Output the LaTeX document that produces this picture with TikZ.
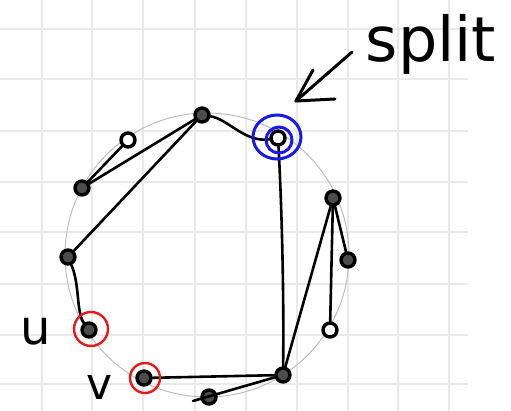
\documentclass[tikz,border=0pt]{standalone}
\usepackage{fontspec}
\newfontfamily\handfont{DejaVu Sans}
\usetikzlibrary{calc}
\definecolor{gridgray}{HTML}{E9E9E9}
\definecolor{ringgray}{HTML}{BDBDBD}
\definecolor{penblue}{HTML}{1A1AE6}
\definecolor{penred}{HTML}{E61A1A}
\tikzset{
  gridline/.style={draw=gridgray, line width=2pt},
  ring/.style={draw=ringgray, line width=1pt},
  vtx/.style={circle, draw=black, line width=3.4pt, fill=black!70, inner sep=0pt, minimum size=14pt},
  hollow/.style={vtx, fill=white},
  edge/.style={draw=black, line width=2.6pt, line cap=round, line join=round},
  mark red/.style={draw=penred, line width=2.4pt},
  mark blue/.style={draw=penblue, line width=3pt},
  pen/.style={draw=black, line width=3pt, line cap=round, line join=round},
  hand/.style={font=\handfont, text=black, inner sep=0pt},
}
\begin{document}
\begin{tikzpicture}[x=1pt, y=-1pt]
  \useasboundingbox (0,0) rectangle (511,411);
  \fill[white] (0,0) rectangle (511,411);

  % squared paper
  \foreach \gx in {42,92,143,195,246,297,348,398,449}
    \draw[gridline] (\gx,0) -- (\gx,411);
  \foreach \gy in {29,79,131,182,232,284,335,384}
    \draw[gridline] (0,\gy) -- (468,\gy);

  % guide circle
  \draw[ring] (207,255) circle[radius=142];

  % vertices on the circle
  \node[vtx]    (n1)  at (202,115) {};
  \node[hollow] (n2)  at (278,138) {};
  \node[hollow] (n3)  at (128,140) {};
  \node[vtx]    (n4)  at (82,188)  {};
  \node[vtx]    (n5)  at (68,257)  {};
  \node[vtx]    (n6)  at (89,330)  {};
  \node[vtx]    (n7)  at (144,378) {};
  \node[vtx]    (n8)  at (209,397) {};
  \node[vtx]    (n9)  at (283,375) {};
  \node[hollow] (n10) at (330,330) {};
  \node[vtx]    (n11) at (348,260) {};
  \node[vtx]    (n12) at (333,198) {};
  \coordinate (tail8) at (193,401);

  % edges
  \draw[edge] (n3) -- (n4);
  \draw[edge] (n4) -- (n1);
  \draw[edge] (n1) -- (n5);
  \draw[edge] (n1) .. controls (228,119) and (245,143) .. (n2);
  \draw[edge] (n5) .. controls (80,285) and (76,312) .. (n6);
  \draw[edge] (n2) .. controls (282,210) and (284,300) .. (n9);
  \draw[edge] (n7) -- (n9);
  \draw[edge] (n9) -- (tail8);
  \draw[edge] (n9) -- (n12);
  \draw[edge] (n12) -- (n11);
  \draw[edge] (n12) -- (n10);

  % highlighted vertices
  \draw[mark red] (91,329) circle[radius=17];
  \draw[mark red] (145,378) circle[radius=15];
  \draw[mark blue] (277,137) ellipse[x radius=24, y radius=22];
  \draw[mark blue] (279,140) circle[radius=13];

  % labels
  \node[hand, font=\handfont\fontsize{48}{48}\selectfont] (lu) at (36,331) {u};
  \node[hand, font=\handfont\fontsize{44}{44}\selectfont] (lv) at (100,387) {v};
  \node[hand, font=\handfont\fontsize{62}{62}\selectfont] (lsplit) at (431,44) {split};

  % arrow from the label toward the split vertex
  \coordinate (atail) at (352,52);
  \coordinate (atip) at (296,101);
  \draw[pen] (atail) -- (atip);
  \draw[pen] (atip) ++(17,-31) -- (atip) -- ++(39,-2);
\end{tikzpicture}
\end{document}
